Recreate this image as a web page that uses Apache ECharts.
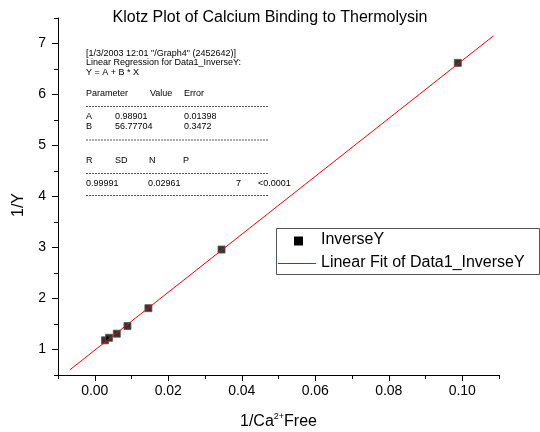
<!DOCTYPE html>
<html>
<head>
<meta charset="utf-8">
<script src="https://cdn.jsdelivr.net/npm/echarts@6/dist/echarts.min.js"></script>
<style>
  html, body { margin: 0; padding: 0; background: #fff; }
  #chart { width: 540px; height: 432px; }
</style>
</head>
<body>
<div id="chart"></div>
<script>
// measured points (1/Ca2+ free vs 1/Y)
const invCa = [0.0028, 0.0039, 0.0060, 0.0089, 0.0146, 0.0345, 0.0988];
const invY = [1.18, 1.23, 1.31, 1.46, 1.81, 2.96, 6.62];

// ends of the red fit line
const fitX = [-0.0068, 0.1085];
const fitY = [0.60, 7.15];

const xTicks = [0, 0.02, 0.04, 0.06, 0.08, 0.10];
const yTicks = [1, 2, 3, 4, 5, 6, 7];

const FONT = 'Liberation Sans, Arial, sans-serif';

const chart = echarts.init(document.getElementById('chart'), null, { renderer: 'canvas' });

// regression report text block (Origin style)
const noteX = 86;
const note = [];
const addText = (text, x, y) => note.push({
  type: 'text', left: x, top: y - 5,
  style: { text, fontSize: 9, fontFamily: FONT, fill: '#000' }
});
const addDash = (y) => note.push({
  type: 'line', shape: { x1: noteX, y1: y, x2: 268, y2: y },
  style: { stroke: '#555', lineWidth: 1, lineDash: [2, 1] }
});
addText('[1/3/2003 12:01 "/Graph4" (2452642)]', noteX, 54);
addText('Linear Regression for Data1_InverseY:', noteX, 63.5);
addText('Y = A + B * X', noteX, 73.5);
addText('Parameter', noteX, 94.5);
addText('Value', 150, 94.5);
addText('Error', 184, 94.5);
addDash(106.5);
addText('A', noteX, 117.5);
addText('0.98901', 115, 117.5);
addText('0.01398', 184, 117.5);
addText('B', noteX, 127.5);
addText('56.77704', 115, 127.5);
addText('0.3472', 184, 127.5);
addDash(140);
addText('R', noteX, 161);
addText('SD', 115, 161);
addText('N', 149, 161);
addText('P', 183, 161);
addDash(173.5);
addText('0.99991', noteX, 184);
addText('0.02961', 148, 184);
addText('7', 236, 184);
addText('<0.0001', 258, 184);
addDash(195.5);

// legend box
const legend = [
  { type: 'rect', shape: { x: 276.5, y: 228.5, width: 263, height: 46 },
    style: { fill: '#fff', stroke: '#555', lineWidth: 1 }, z: 10 },
  { type: 'rect', shape: { x: 294, y: 236.5, width: 9, height: 9 },
    style: { fill: '#000' }, z: 11 },
  { type: 'line', shape: { x1: 278, y1: 263.5, x2: 316, y2: 263.5 },
    style: { stroke: '#ff0000', lineWidth: 1 }, z: 11 },
  { type: 'text', left: 321, top: 232, z: 11,
    style: { text: 'InverseY', fontSize: 16, fontFamily: FONT, fill: '#000' } },
  { type: 'text', left: 321, top: 255, z: 11,
    style: { text: 'Linear Fit of Data1_InverseY', fontSize: 16, fontFamily: FONT, fill: '#000' } }
];

const yName = {
  type: 'text', x: 19, y: 205, rotation: Math.PI / 2,
  style: { text: '1/Y', fontSize: 16, fontFamily: FONT, fill: '#000', align: 'center', verticalAlign: 'middle' }
};

const option = {
  animation: false,
  backgroundColor: '#fff',
  textStyle: { fontFamily: FONT },
  title: {
    text: 'Klotz Plot of Calcium Binding to Thermolysin',
    left: 'center',
    top: 10,
    padding: 0,
    textStyle: { fontSize: 16, fontWeight: 'normal', color: '#000', fontFamily: FONT }
  },
  grid: { left: 58, right: 41, top: 18, bottom: 57, outerBoundsMode: 'none', containLabel: false },
  xAxis: [
    {
      type: 'value', min: -0.01, max: 0.11, position: 'bottom',
      name: '1/Ca{sup|2+}Free', nameLocation: 'middle', nameGap: 37,
      nameTextStyle: {
        fontSize: 16, color: '#000', fontFamily: FONT,
        rich: { sup: { fontSize: 9, fontFamily: FONT, color: '#000', verticalAlign: 'bottom', padding: [0, 0, 11, 0] } }
      },
      axisLine: { show: true, onZero: false, lineStyle: { color: '#000', width: 1 } },
      axisTick: { show: true, length: 6, customValues: xTicks, lineStyle: { color: '#000' } },
      axisLabel: { customValues: xTicks, formatter: v => v.toFixed(2), fontSize: 14, color: '#000', margin: 9 },
      splitLine: { show: false }
    },
    {
      type: 'value', min: -0.01, max: 0.11, interval: 0.01, position: 'bottom',
      axisLine: { show: false, onZero: false },
      axisTick: { show: true, length: 4, lineStyle: { color: '#000' } },
      axisLabel: { show: false },
      splitLine: { show: false }
    }
  ],
  yAxis: [
    {
      type: 'value', min: 0.5, max: 7.5, position: 'left',
      axisLine: { show: true, onZero: false, lineStyle: { color: '#000', width: 1 } },
      axisTick: { show: true, length: 6, customValues: yTicks, lineStyle: { color: '#000' } },
      axisLabel: { customValues: yTicks, fontSize: 14, color: '#000', margin: 12 },
      splitLine: { show: false }
    },
    {
      type: 'value', min: 0.5, max: 7.5, interval: 0.5, position: 'left',
      axisLine: { show: false, onZero: false },
      axisTick: { show: true, length: 4, lineStyle: { color: '#000' } },
      axisLabel: { show: false },
      splitLine: { show: false }
    }
  ],
  series: [
    {
      name: 'InverseY',
      type: 'scatter',
      symbol: 'rect',
      symbolSize: 7,
      itemStyle: { color: '#000', borderColor: '#555', borderWidth: 1 },
      data: invCa.map((x, i) => [x, invY[i]]),
      z: 2
    },
    {
      name: 'Linear Fit of Data1_InverseY',
      type: 'line',
      showSymbol: false,
      symbol: 'none',
      lineStyle: { color: '#ff0000', width: 1 },
      data: fitX.map((x, i) => [x, fitY[i]]),
      z: 3
    }
  ],
  graphic: [...note, ...legend, yName]
};

chart.setOption(option);
</script>
</body>
</html>
